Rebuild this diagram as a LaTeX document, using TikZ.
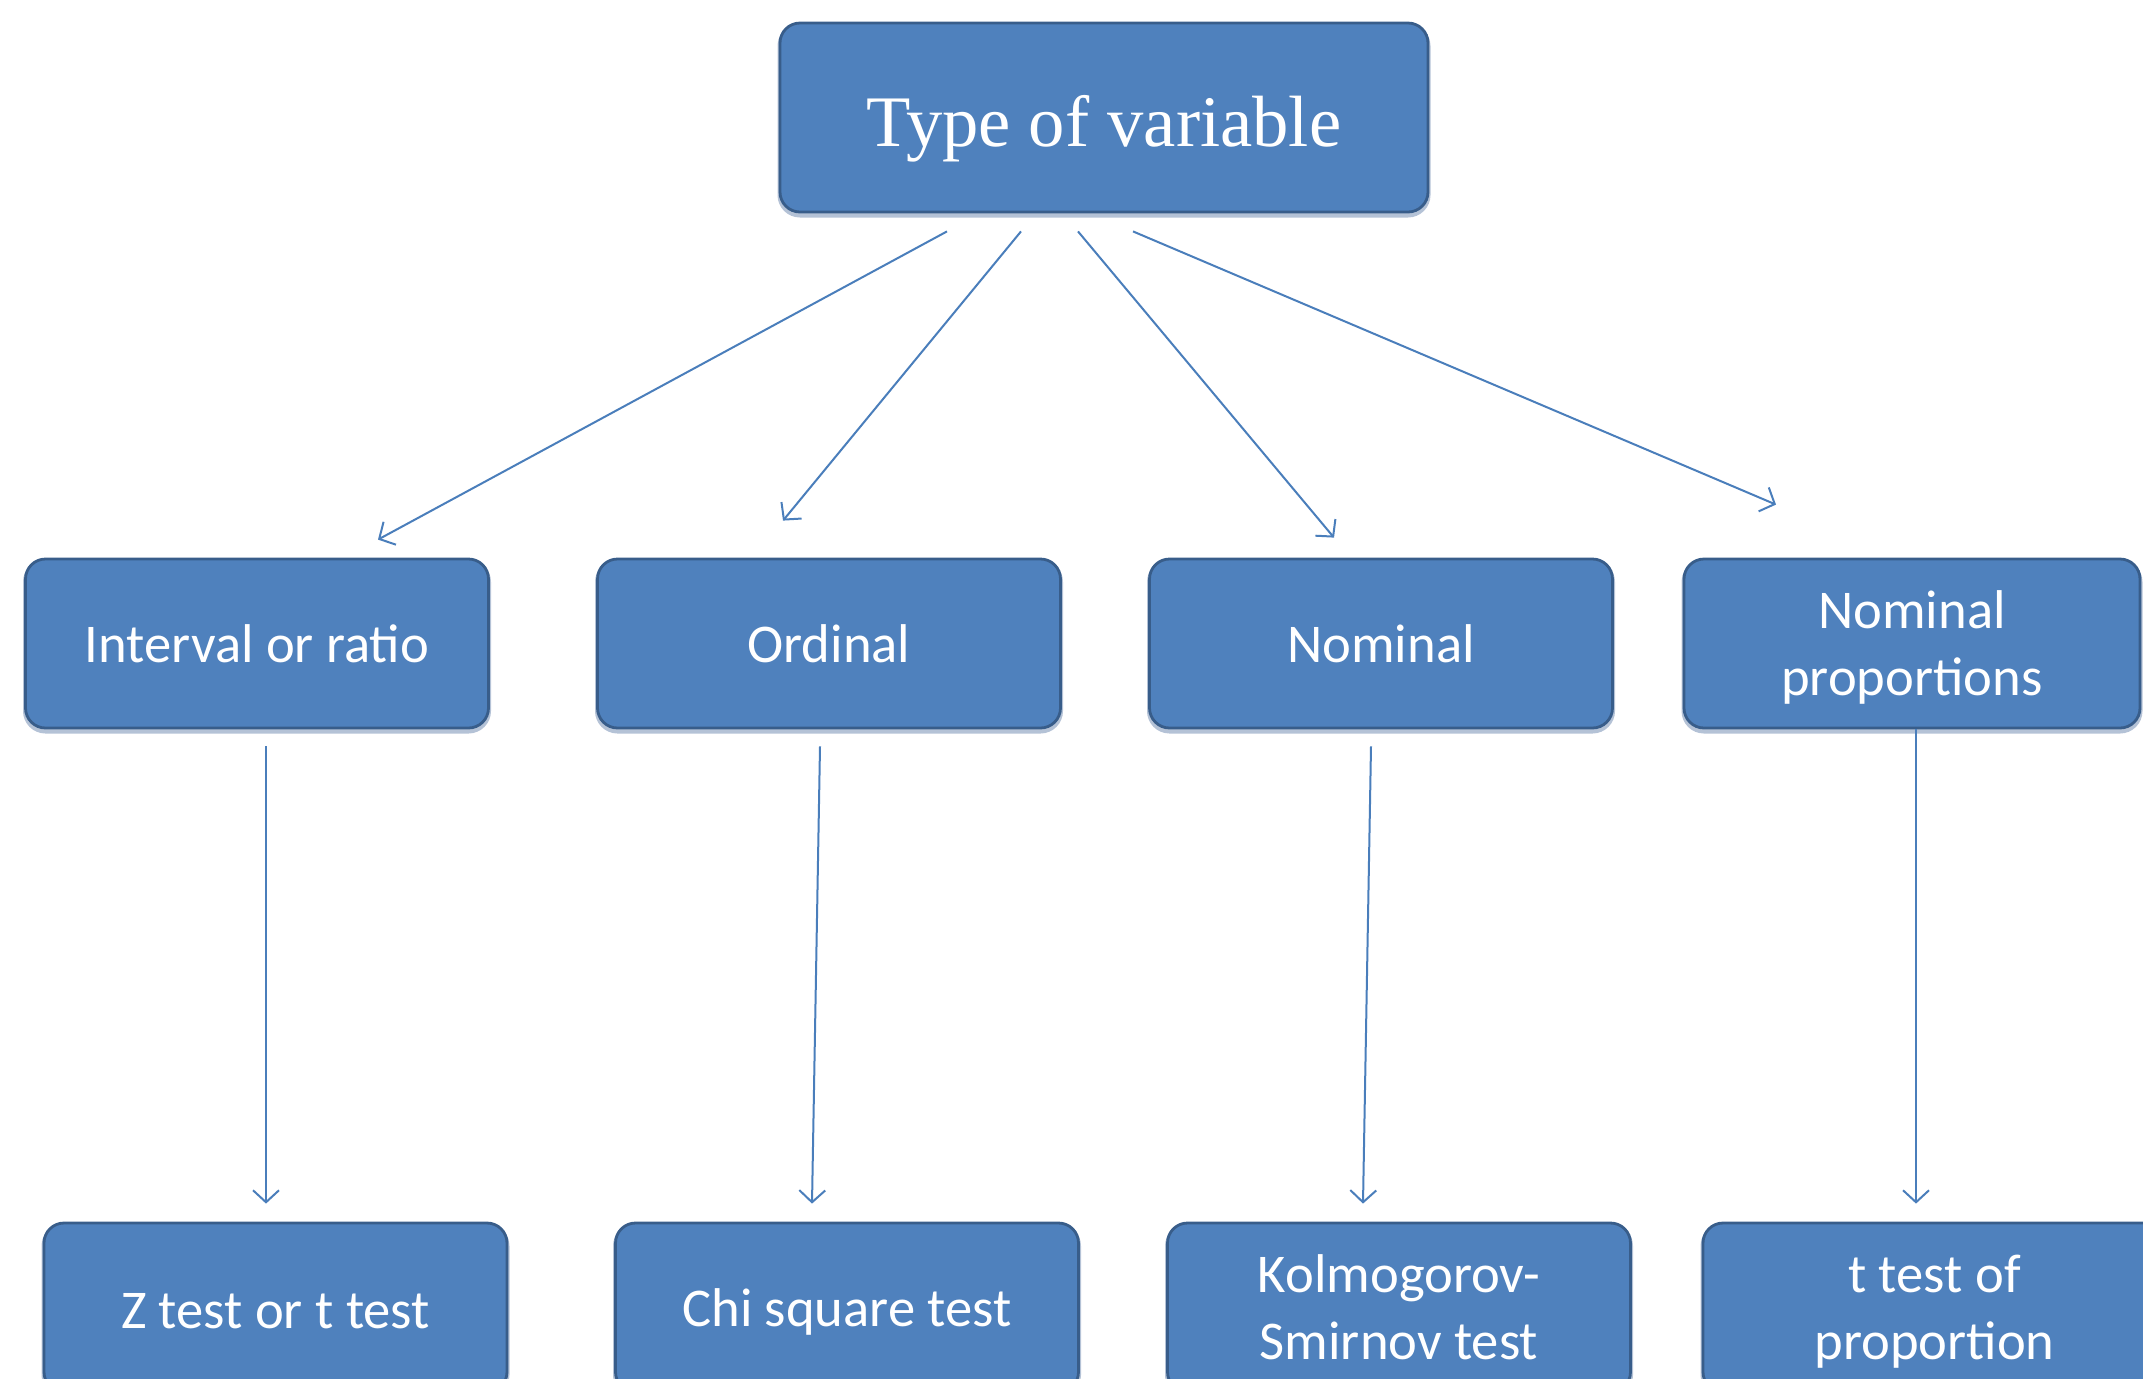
\documentclass[tikz,border=0pt]{standalone}
\usepackage{fontspec}
\setmainfont{Carlito}
\newfontfamily\serifTop{Liberation Serif}
\usetikzlibrary{arrows.meta,calc}
\definecolor{boxfill}{HTML}{4F81BD}
\definecolor{boxborder}{HTML}{385D8A}
\definecolor{shadowc}{HTML}{B4C2D6}
\definecolor{arrowc}{HTML}{4A7EBB}
\newcommand{\mylines}[2]{\raisebox{#1}[\height][\depth]{\begin{tabular}{@{}c@{}}#2\end{tabular}}}
\newcommand{\myline}[2]{\raisebox{#1}[\height][\depth]{#2}}
\begin{document}
\begin{tikzpicture}[x=0.5pt,y=-0.5pt,
  box/.style={rounded corners=10pt, fill=boxfill, draw=boxborder, line width=1.4pt,
    text=white, inner sep=0pt, minimum height=84.5pt, minimum width=231.5pt,
    font=\fontsize{27.3}{33.5}\selectfont,
    preaction={draw=shadowc, line width=2.5pt, transform canvas={yshift=-1.5pt}}},
  conn/.style={draw=arrowc, line width=1pt, -{Straight Barb[length=6pt,width=13pt]}}]
\useasboundingbox (0,0) rectangle (2143,1378);
\clip (0,0) rectangle (2143,1378);

\node[box, minimum width=324pt, minimum height=94.5pt,
      font=\serifTop\fontsize{36.3}{40}\selectfont] (top) at (1104,117.5) {\myline{-5.5pt}{Type of variable}};

\node[box] (iv)  at (257,643.5)  {Interval or ratio};
\node[box] (ord) at (829,643.5)  {Ordinal};
\node[box] (nom) at (1381,643.5) {Nominal};
\node[box, minimum width=228pt] (np) at (1912,643.5) {\mylines{-2.5pt}{Nominal\\proportions}};

\node[box] (zt)  at (275.5,1307.5) {\myline{-2pt}{Z test or t test}};
\node[box] (chi) at (847,1307.5)   {\myline{-2pt}{Chi square test}};
\node[box] (ks)  at (1399,1307.5)  {\mylines{-2.5pt}{Kolmogorov-\\Smirnov test}};
\node[box] (tp)  at (1934.5,1307.5) {\mylines{-2.5pt}{t test of\\proportion}};

\coordinate (s1) at ($(top.south)+(-157,18)$);
\coordinate (s2) at ($(top.south)+(-83,18)$);
\coordinate (s3) at ($(top.south)+(-26,18)$);
\coordinate (s4) at ($(top.south)+(29,18)$);
\coordinate (e1) at ($(iv.north)+(121,-18)$);
\coordinate (e2) at ($(ord.north)+(-46,-37)$);
\coordinate (e3) at ($(nom.north)+(-47,-20)$);
\coordinate (e4) at ($(np.north)+(-136,-53)$);

\coordinate (v1s) at ($(iv.south)+(9,17)$);
\coordinate (v1e) at ($(zt.north)+(-9.5,-18)$);
\coordinate (v2s) at ($(ord.south)+(-9,17)$);
\coordinate (v2e) at ($(chi.north)+(-35,-18)$);
\coordinate (v3s) at ($(nom.south)+(-10,17)$);
\coordinate (v3e) at ($(ks.north)+(-36,-18)$);
\coordinate (v4s) at ($(np.south)+(4,0)$);
\coordinate (v4e) at ($(tp.north)+(-18.5,-18)$);

\draw[conn] (s1) -- (e1);
\draw[conn] (s2) -- (e2);
\draw[conn] (s3) -- (e3);
\draw[conn] (s4) -- (e4);
\draw[conn] (v1s) -- (v1e);
\draw[conn] (v2s) -- (v2e);
\draw[conn] (v3s) -- (v3e);
\draw[conn] (v4s) -- (v4e);
\end{tikzpicture}
\end{document}
